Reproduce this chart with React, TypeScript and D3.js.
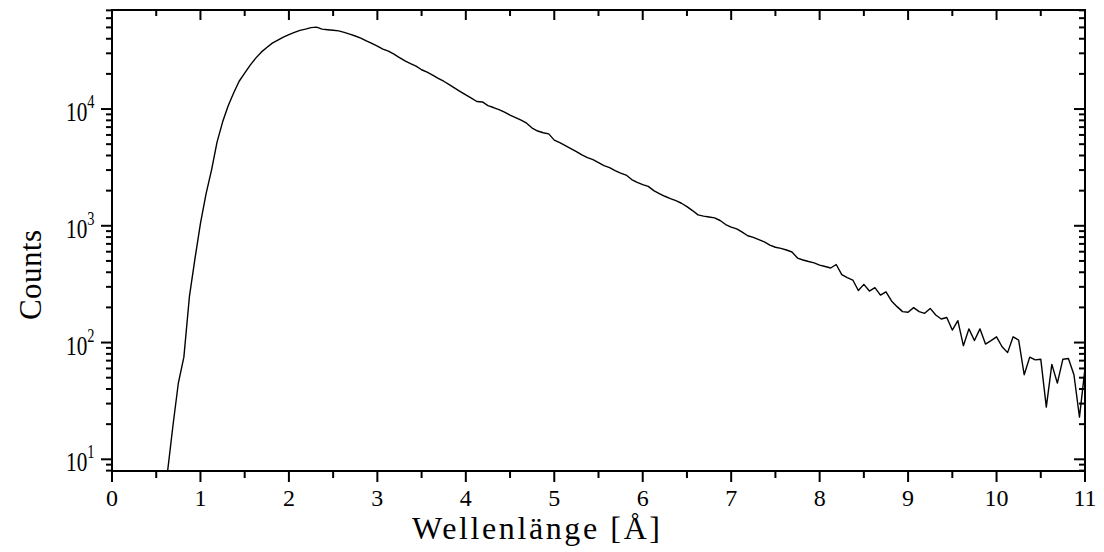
import React from "react";
import * as d3 from "d3";

// wavelength grid (Å) and counts
const X_START = 0.625;
const X_STEP = 0.0625;
const counts = [
  7.5, 19, 45, 75, 247, 520, 1050, 1870, 3000, 5210,
  7730, 10600, 13700, 17300, 20300, 23800, 27300, 30700, 33600, 36700,
  38900, 41300, 43400, 45300, 47200, 48300, 49800, 50300, 48300, 47800,
  47300, 46700, 45400, 43800, 42200, 40500, 38400, 36500, 34600, 32600,
  31300, 29500, 27600, 25900, 24500, 23300, 21700, 20700, 19500, 18300,
  17300, 16200, 15100, 14100, 13200, 12400, 11600, 11500, 10700, 10300,
  9880, 9400, 8870, 8440, 8030, 7570, 6870, 6480, 6260, 6130,
  5420, 5150, 4860, 4580, 4320, 4050, 3840, 3690, 3480, 3280,
  3150, 2970, 2830, 2720, 2490, 2350, 2250, 2175, 2000, 1890,
  1790, 1710, 1640, 1560, 1460, 1350, 1240, 1210, 1190, 1170,
  1110, 1025, 975, 940, 883, 822, 796, 762, 728, 684,
  655, 641, 620, 596, 529, 509, 494, 481, 461, 448,
  435, 466, 382, 360, 343, 279, 315, 276, 295, 255,
  272, 227, 203, 184, 182, 199, 184, 178, 196, 172,
  159, 164, 128, 154, 94, 131, 104, 131, 97, 104,
  112, 92, 82, 112, 105, 53, 75, 71, 72, 28,
  65, 45, 72, 73, 53, 23, 60,
];
const xTicks = [0, 1, 2, 3, 4, 5, 6, 7, 8, 9, 10, 11];
const xMinorTicks = xTicks.slice(0, -1).map((t) => t + 0.5);
const yDecades = [10, 100, 1000, 10000];
const yExponents = ["1", "2", "3", "4"];
const xLabel = "Wellenlänge [Å]";
const yLabel = "Counts";

const FONT = "'Liberation Serif', 'Times New Roman', serif";

const App = () => {
  const width = 1104;
  const height = 552;
  const left = 112;
  const right = 1085;
  const top = 10;
  const bottom = 471;

  const xScale = d3.scaleLinear().domain([0, 11]).range([left, right]);
  const yScale = d3.scaleLog().domain([7.94, 70500]).range([bottom, top]);

  const data = counts.map((c, i) => ({ x: X_START + i * X_STEP, y: c }));
  const line = d3
    .line<{ x: number; y: number }>()
    .x((d) => xScale(d.x))
    .y((d) => yScale(d.y));

  // minor log ticks (2..9 per decade) that fall inside the domain
  const [yMin, yMax] = yScale.domain();
  const yMinor: number[] = [];
  for (let dec = 1; dec <= 10000; dec *= 10) {
    for (let k = 2; k <= 9; k++) {
      const v = k * dec;
      if (v >= yMin && v <= yMax) yMinor.push(v);
    }
  }

  return (
    <svg
      width={width}
      height={height}
      style={{ position: "absolute", left: 0, top: 0, background: "#fff" }}
      fontFamily={FONT}
    >
      <defs>
        <clipPath id="plot">
          <rect x={left} y={top} width={right - left} height={bottom - top} />
        </clipPath>
      </defs>

      {/* data */}
      <path
        d={line(data) || ""}
        fill="none"
        stroke="#000"
        strokeWidth={1.4}
        strokeLinejoin="round"
        clipPath="url(#plot)"
      />

      {/* frame */}
      <rect
        x={left}
        y={top}
        width={right - left}
        height={bottom - top}
        fill="none"
        stroke="#000"
        strokeWidth={2}
      />

      {/* x ticks: bottom outward, top inward */}
      {xTicks.map((t) => (
        <g key={"x" + t}>
          <line x1={xScale(t)} x2={xScale(t)} y1={bottom} y2={bottom + 11} stroke="#000" strokeWidth={2} />
          <line x1={xScale(t)} x2={xScale(t)} y1={top} y2={top + 10} stroke="#000" strokeWidth={2} />
          <text x={xScale(t)} y={506} textAnchor="middle" fontSize={24}>
            {t}
          </text>
        </g>
      ))}
      {xMinorTicks.map((t) => (
        <g key={"xm" + t}>
          <line x1={xScale(t)} x2={xScale(t)} y1={bottom} y2={bottom + 7} stroke="#000" strokeWidth={2} />
          <line x1={xScale(t)} x2={xScale(t)} y1={top} y2={top + 6} stroke="#000" strokeWidth={2} />
        </g>
      ))}

      {/* y ticks: left outward, right inward */}
      {yDecades.map((t, i) => (
        <g key={"y" + t}>
          <line x1={left - 11} x2={left} y1={yScale(t)} y2={yScale(t)} stroke="#000" strokeWidth={2} />
          <line x1={right - 11} x2={right} y1={yScale(t)} y2={yScale(t)} stroke="#000" strokeWidth={2} />
          <text
            transform={`translate(66, ${yScale(t) + 12}) scale(0.76, 1)`}
            fontSize={28}
          >
            10
            <tspan dy={-13} fontSize={19}>
              {yExponents[i]}
            </tspan>
          </text>
        </g>
      ))}
      {yMinor.map((t) => (
        <g key={"ym" + t}>
          <line x1={left - 6} x2={left} y1={yScale(t)} y2={yScale(t)} stroke="#000" strokeWidth={2} />
          <line x1={right - 6} x2={right} y1={yScale(t)} y2={yScale(t)} stroke="#000" strokeWidth={2} />
        </g>
      ))}

      {/* axis titles */}
      <text
        x={412}
        y={539}
        fontSize={32}
        textLength={248}
        lengthAdjust="spacing"
      >
        {xLabel}
      </text>
      <text
        transform={`translate(41, 320) rotate(-90)`}
        fontSize={31}
        textLength={90}
        lengthAdjust="spacing"
      >
        {yLabel}
      </text>
    </svg>
  );
};

export default App;
